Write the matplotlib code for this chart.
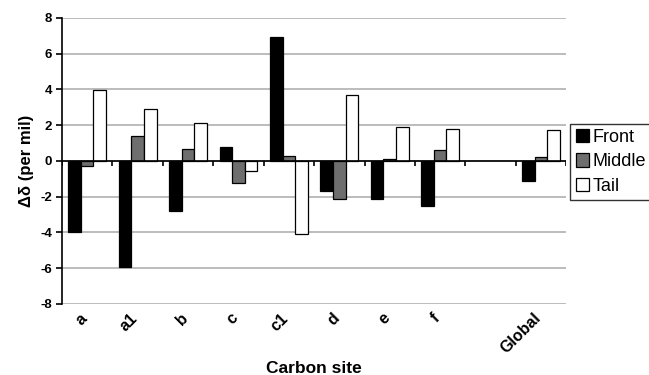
import numpy as np
import matplotlib
matplotlib.use('Agg')
import matplotlib.pyplot as plt
import matplotlib.transforms as mtransforms

plt.rcParams['font.family'] = ['Liberation Sans', 'DejaVu Sans']
plt.rcParams['axes.unicode_minus'] = False

# data
sites = ['a', 'a1', 'b', 'c', 'c1', 'd', 'e', 'f', '', 'Global']
front = [-4.0, -5.97, -2.78, 0.76, 6.93, -1.7, -2.12, -2.52, np.nan, -1.15]
middle = [-0.28, 1.41, 0.66, -1.26, 0.3, -2.12, 0.13, 0.62, np.nan, 0.23]
tail = [3.97, 2.92, 2.11, -0.56, -4.1, 3.71, 1.9, 1.79, np.nan, 1.72]

series = [('Front', front, 'black'),
          ('Middle', middle, '#6e6e6e'),
          ('Tail', tail, 'white')]

fig = plt.figure(figsize=(6.49, 3.75), dpi=100)
ax = fig.add_axes([0.0955, 0.19, 0.777, 0.762])

x = np.arange(len(sites))
w = 0.25
for i, (name, vals, col) in enumerate(series):
    ax.bar(x + (i - 1) * w, vals, w, color=col, edgecolor='black',
           linewidth=0.9, label=name, zorder=3)

ax.set_xlim(-0.5, len(sites) - 0.5)
ax.set_ylim(-8, 8)
ax.set_yticks(np.arange(-8, 9, 2))
ax.yaxis.grid(True, color='#b0b0b0', linewidth=1.2, zorder=0)
ax.set_axisbelow(True)

for s in ['top', 'right', 'bottom']:
    ax.spines[s].set_visible(False)
ax.spines['left'].set_linewidth(1.2)
ax.tick_params(axis='y', direction='out', length=4, width=1.2,
               labelsize=9.5, pad=3)
for lab in ax.get_yticklabels():
    lab.set_fontweight('bold')

# category labels at bottom, rotated like the original
ax.set_xticks(x)
ax.set_xticklabels(sites, rotation=45, ha='right', rotation_mode='anchor',
                   fontsize=11.5, fontweight='bold')
ax.tick_params(axis='x', length=0, pad=5)
shift = mtransforms.ScaledTranslation(-8 / 100, 0, fig.dpi_scale_trans)
for lab in ax.get_xticklabels():
    lab.set_transform(lab.get_transform() + shift)

# zero line with category tick marks
ax.axhline(0, color='black', linewidth=1.2, zorder=4)
bounds = np.arange(len(sites) + 1) - 0.5
ax.vlines(bounds, -0.3, 0, color='black', linewidth=1.2, zorder=4)

ax.set_xlabel('Carbon site', fontsize=12.5, fontweight='bold')
ax.xaxis.set_label_coords(0.5, -0.2)
ax.set_ylabel('Δδ (per mil)', fontsize=12, fontweight='bold')
ax.yaxis.set_label_coords(-0.055, 0.5)

leg = ax.legend(loc='upper left', bbox_to_anchor=(1.008, 0.63),
                fontsize=13, frameon=True, fancybox=False,
                edgecolor='black', handlelength=0.75, handleheight=0.75,
                handletextpad=0.2, borderpad=0.3, labelspacing=0.4,
                borderaxespad=0)
leg.get_frame().set_linewidth(1.0)

fig.savefig('out.png', dpi=100)
